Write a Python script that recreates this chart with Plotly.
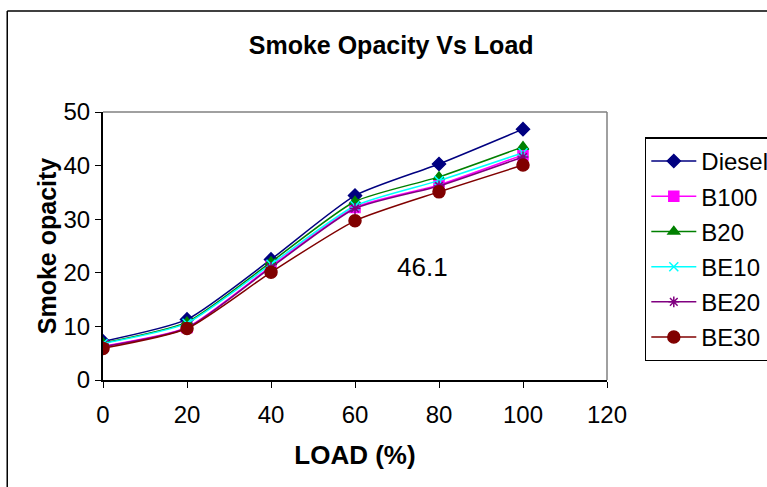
import plotly.graph_objects as go

load = [0, 20, 40, 60, 80, 100]
diesel = [7.2, 11.3, 22.5, 34.4, 40.3, 46.8]
b100 = [6.3, 9.8, 21.2, 32.2, 36.4, 42.0]
b20 = [6.9, 10.8, 22.0, 33.3, 37.9, 43.5]
be10 = [6.8, 10.6, 21.6, 32.5, 37.2, 42.4]
be20 = [6.2, 9.7, 21.0, 32.0, 36.2, 41.6]
be30 = [5.9, 9.6, 20.1, 29.7, 35.1, 40.1]

series = [
    ("Diesel", diesel, "#000080", "diamond", 10),
    ("B100", b100, "#FF00FF", "square", 10),
    ("B20", b20, "#008000", "triangle-up", 10),
    ("BE10", be10, "#00FFFF", "x-thin-open", 9),
    ("BE20", be20, "#800080", "asterisk-open", 9),
    ("BE30", be30, "#800000", "circle", 12),
]

FONT = "Liberation Sans, Arial"

fig = go.Figure()
for name, vals, col, sym, sz in series:
    fig.add_trace(go.Scatter(
        x=load, y=vals, name=name, mode="lines+markers", legendgroup=name,
        line=dict(color=col, width=1.5, shape="spline", smoothing=0.6),
        marker=dict(symbol=sym, size=sz, color=col, line=dict(color=col, width=1.5)),
    ))

fig.add_annotation(x=76, y=21, text="46.1", showarrow=False,
                   font=dict(size=26, color="black", family=FONT))

fig.update_layout(
    width=767, height=487,
    margin=dict(l=103, r=160, t=112, b=107, autoexpand=False),
    paper_bgcolor="white", plot_bgcolor="white",
    font=dict(family=FONT, size=24, color="black"),
    title=dict(text="<b>Smoke Opacity Vs Load</b>", x=0.51, xanchor="center",
               y=0.907, yanchor="middle", font=dict(size=25)),
    showlegend=True,
    legend=dict(x=1.075, xanchor="left", y=0.905, yanchor="top",
                bordercolor="black", borderwidth=1.5, bgcolor="white",
                font=dict(size=24), tracegroupgap=1, itemwidth=45),
    shapes=[
        dict(type="line", xref="paper", yref="paper", x0=-0.19, x1=1.4,
             y0=1.377, y1=1.377, line=dict(color="black", width=1.5)),
        dict(type="line", xref="paper", yref="paper", x0=-0.19, x1=-0.19,
             y0=1.377, y1=-0.5, line=dict(color="black", width=1.5)),
        dict(type="line", xref="paper", yref="paper", x0=0, x1=1,
             y0=1, y1=1, line=dict(color="#808080", width=1.5)),
        dict(type="line", xref="paper", yref="paper", x0=1, x1=1,
             y0=0, y1=1, line=dict(color="#808080", width=1.5)),
    ],
)
fig.update_xaxes(range=[0, 120], tickvals=[0, 20, 40, 60, 80, 100, 120],
                 showgrid=False, zeroline=False, showline=True, linecolor="black",
                 linewidth=2, ticks="outside", ticklen=6, tickcolor="black",
                 ticklabelstandoff=6,
                 title=dict(text="<b>LOAD (%)</b>", standoff=19,
                            font=dict(size=26, family=FONT)))
fig.update_yaxes(range=[0, 50], tickvals=[0, 10, 20, 30, 40, 50],
                 showgrid=False, zeroline=False, showline=True, linecolor="black",
                 linewidth=2, ticks="outside", ticklen=6, tickcolor="black",
                 title=dict(text="<b>Smoke opacity</b>", standoff=0,
                            font=dict(size=25, family=FONT)))

fig.write_html("out.html")
